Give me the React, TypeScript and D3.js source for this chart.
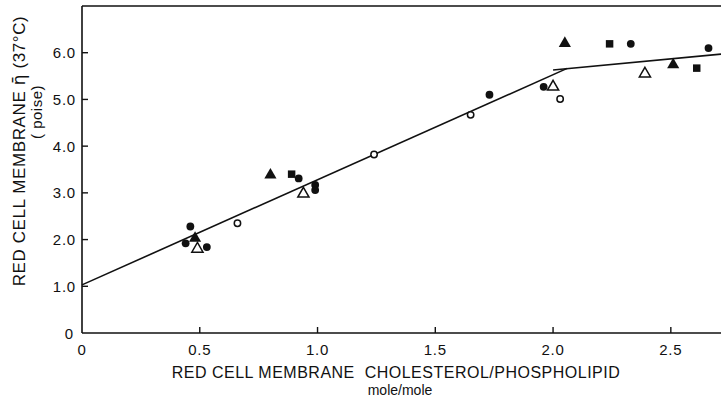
import React, { useEffect, useRef } from 'react'
import * as d3 from 'd3'

// values
const filledCircleX = [0.44, 0.46, 0.53, 0.92, 0.99, 0.99, 1.73, 1.96, 2.33, 2.66]
const filledCircleY = [1.92, 2.28, 1.84, 3.31, 3.17, 3.06, 5.1, 5.27, 6.19, 6.1]
const openCircleX = [0.66, 1.24, 1.65, 2.03]
const openCircleY = [2.35, 3.82, 4.67, 5.01]
const filledTriangleX = [0.48, 0.8, 2.05, 2.51]
const filledTriangleY = [2.03, 3.38, 6.2, 5.74]
const openTriangleX = [0.49, 0.94, 2.0, 2.39]
const openTriangleY = [1.8, 2.98, 5.27, 5.55]
const filledSquareX = [0.89, 2.24, 2.61]
const filledSquareY = [3.4, 6.19, 5.67]

// the two fitted segments
const fitAX = [0, 2.06]
const fitAY = [1.03, 5.665]
const fitBX = [2.0, 2.713]
const fitBY = [5.63, 5.97]

const xTicks = [0.5, 1.0, 1.5, 2.0, 2.5]
const xTickLabels = ['0', '0.5', '1.0', '1.5', '2.0', '2.5']
const yTicks = [1, 2, 3, 4, 5, 6]
const yTickLabels = ['1.0', '2.0', '3.0', '4.0', '5.0', '6.0']

const FONT = "'Liberation Sans', Arial, Helvetica, sans-serif"
const INK = '#111'

export default function App() {
  const ref = useRef<SVGSVGElement>(null)

  useEffect(() => {
    const svg = d3.select(ref.current)
    svg.selectAll('*').remove()

    const x = d3.scaleLinear().domain([0, 2.713]).range([82, 721])
    const y = d3.scaleLinear().domain([0, 7]).range([333, 6])

    const g = svg.append('g')

    // frame: left, bottom, top
    g.append('line').attr('x1', x(0)).attr('x2', x(0)).attr('y1', y(7)).attr('y2', y(0))
      .attr('stroke', INK).attr('stroke-width', 1.6)
    g.append('line').attr('x1', x(0)).attr('x2', 721).attr('y1', y(0)).attr('y2', y(0))
      .attr('stroke', INK).attr('stroke-width', 1.6)
    g.append('line').attr('x1', x(0)).attr('x2', 721).attr('y1', y(7)).attr('y2', y(7))
      .attr('stroke', INK).attr('stroke-width', 1.6)

    // inward ticks
    g.selectAll('.xt').data(xTicks).enter().append('line')
      .attr('x1', d => x(d)).attr('x2', d => x(d))
      .attr('y1', y(0)).attr('y2', y(0) - 6)
      .attr('stroke', INK).attr('stroke-width', 1.4)
    g.selectAll('.yt').data(yTicks).enter().append('line')
      .attr('x1', x(0)).attr('x2', x(0) + 6)
      .attr('y1', d => y(d)).attr('y2', d => y(d))
      .attr('stroke', INK).attr('stroke-width', 1.4)

    // tick labels
    g.selectAll('.xl').data([0, ...xTicks]).enter().append('text')
      .attr('x', d => x(d)).attr('y', 355)
      .attr('text-anchor', 'middle')
      .attr('font-family', FONT).attr('font-size', 15).attr('letter-spacing', 0.8).attr('fill', INK)
      .text((d, i) => xTickLabels[i])
    g.selectAll('.yl').data(yTicks).enter().append('text')
      .attr('x', x(0) - 6).attr('y', d => y(d) + 5.5)
      .attr('text-anchor', 'end')
      .attr('font-family', FONT).attr('font-size', 15).attr('letter-spacing', 0.8).attr('fill', INK)
      .text((d, i) => yTickLabels[i])
    g.append('text')
      .attr('x', x(0) - 9).attr('y', y(0) + 5.5)
      .attr('text-anchor', 'end')
      .attr('font-family', FONT).attr('font-size', 15).attr('fill', INK)
      .text('0')

    // axis titles
    g.append('text')
      .attr('x', 396).attr('y', 378)
      .attr('text-anchor', 'middle')
      .attr('font-family', FONT).attr('font-size', 16).attr('letter-spacing', 0.5).attr('fill', INK)
      .attr('xml:space', 'preserve')
      .text('RED CELL MEMBRANE  CHOLESTEROL/PHOSPHOLIPID')
    g.append('text')
      .attr('x', 400).attr('y', 395)
      .attr('text-anchor', 'middle')
      .attr('font-family', FONT).attr('font-size', 14).attr('fill', INK)
      .text('mole/mole')
    const yTitle = g.append('text')
      .attr('transform', 'translate(25,151) rotate(-90)')
      .attr('text-anchor', 'middle')
      .attr('font-family', FONT).attr('font-size', 17).attr('letter-spacing', 0.6).attr('fill', INK)
    yTitle.append('tspan').text('RED CELL MEMBRANE ')
    yTitle.append('tspan').attr('font-family', "'DejaVu Sans', sans-serif").text('\u03B7\u0304')
    yTitle.append('tspan').text(' (37\u00B0C)')
    g.append('text')
      .attr('transform', 'translate(42,112) rotate(-90)')
      .attr('text-anchor', 'middle')
      .attr('font-family', FONT).attr('font-size', 15).attr('letter-spacing', 0.5).attr('fill', INK)
      .text('( poise)')

    // fitted lines
    const line = d3.line<[number, number]>().x(d => x(d[0])).y(d => y(d[1]))
    g.append('path').datum(d3.zip(fitAX, fitAY) as [number, number][])
      .attr('d', line).attr('fill', 'none').attr('stroke', INK).attr('stroke-width', 1.6)
    g.append('path').datum(d3.zip(fitBX, fitBY) as [number, number][])
      .attr('d', line).attr('fill', 'none').attr('stroke', INK).attr('stroke-width', 1.6)

    // markers
    const tri = d3.symbol().type(d3.symbolTriangle)
    const sq = d3.symbol().type(d3.symbolSquare).size(56)

    g.selectAll('.fc').data(d3.zip(filledCircleX, filledCircleY)).enter().append('circle')
      .attr('cx', d => x(d[0])).attr('cy', d => y(d[1])).attr('r', 3.9).attr('fill', INK)
    g.selectAll('.oc').data(d3.zip(openCircleX, openCircleY)).enter().append('circle')
      .attr('cx', d => x(d[0])).attr('cy', d => y(d[1])).attr('r', 3.2)
      .attr('fill', 'white').attr('stroke', INK).attr('stroke-width', 1.5)
    g.selectAll('.ft').data(d3.zip(filledTriangleX, filledTriangleY)).enter().append('path')
      .attr('d', tri.size(64)())
      .attr('transform', d => `translate(${x(d[0])},${y(d[1])})`)
      .attr('fill', INK)
    g.selectAll('.ot').data(d3.zip(openTriangleX, openTriangleY)).enter().append('path')
      .attr('d', tri.size(54)())
      .attr('transform', d => `translate(${x(d[0])},${y(d[1])})`)
      .attr('fill', 'white').attr('stroke', INK).attr('stroke-width', 1.5)
    g.selectAll('.fs').data(d3.zip(filledSquareX, filledSquareY)).enter().append('path')
      .attr('d', sq())
      .attr('transform', d => `translate(${x(d[0])},${y(d[1])})`)
      .attr('fill', INK)
  }, [])

  return (
    <svg ref={ref} width={721} height={403}
      style={{ position: 'absolute', left: 0, top: 0, background: 'white' }} />
  )
}
